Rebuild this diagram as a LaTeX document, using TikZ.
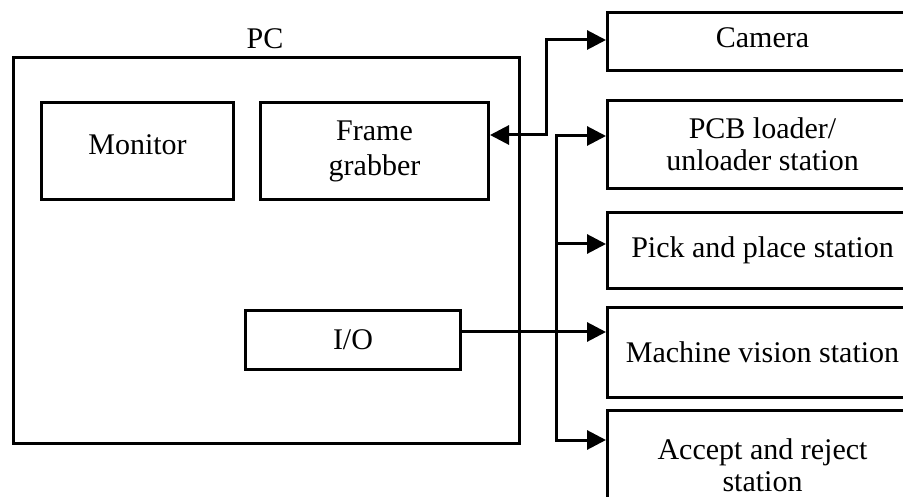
\documentclass[tikz,border=0pt]{standalone}
\usepackage{fontspec}
\setmainfont{Liberation Serif}
\usetikzlibrary{arrows.meta}
\begin{document}
\begin{tikzpicture}[x=1pt,y=-1pt,
  box/.style={draw=black,line width=3pt,inner sep=0pt,anchor=north west,align=center,
    font=\fontsize{30}{32}\selectfont},
  conn/.style={line width=3pt,-{Triangle[length=19pt,width=19pt]}},
  bidir/.style={line width=3pt,{Triangle[length=19pt,width=19pt]}-{Triangle[length=19pt,width=19pt]}},
  lbl/.style={font=\fontsize{30}{32}\selectfont,inner sep=0pt}]
\useasboundingbox (0,0) rectangle (903,497);
\fill[white] (0,0) rectangle (903,497);
% PC
\node[box,minimum width=506pt,minimum height=386pt] (pc) at (12,56) {};
\node[lbl] (pclabel) at (265,39) {PC};
\node[box,minimum width=192pt,minimum height=97pt] (mon) at (40,101) {};
\node[lbl] (montext) at ([yshift=6pt]mon.center) {Monitor};
\node[box,minimum width=228pt,minimum height=97pt,font=\fontsize{30}{35}\selectfont] (fg) at (259,101) {Frame\\grabber};
\node[box,minimum width=215pt,minimum height=59pt] (io) at (244,309) {I/O};
% right boxes
\node[box,minimum width=310pt,minimum height=58pt] (cam) at (606,11) {};
\node[lbl] (camtext) at ([yshift=4pt]cam.center) {Camera};
\node[box,minimum width=310pt,minimum height=88pt] (pcb) at (606,99) {PCB loader/\\unloader station};
\node[box,minimum width=310pt,minimum height=76pt] (pick) at (606,211) {Pick and place station};
\node[box,minimum width=310pt,minimum height=90pt] (mv) at (606,306) {Machine vision station};
\node[box,minimum width=310pt,minimum height=110pt] (acc) at (606,409) {Accept and reject\\station};
% connectors
\coordinate (j1) at (546,135);
\coordinate (j2) at (546,40);
\draw[bidir] (fg.east |- j1) -- (j1) -- (j2) -- (cam.west |- j2);
\coordinate (t1) at (556,136);
\coordinate (t2) at (556,244);
\coordinate (t3) at (556,440);
\draw[conn] (t1) -- (pcb.west |- t1);
\draw[conn] (t2) -- (pick.west |- t2);
\draw[conn,line cap=rect] (t1) -- (t3) -- (acc.west |- t3);
\coordinate (m1) at (459,332);
\draw[conn] (io.east |- m1) -- (mv.west |- m1);
\end{tikzpicture}
\end{document}
